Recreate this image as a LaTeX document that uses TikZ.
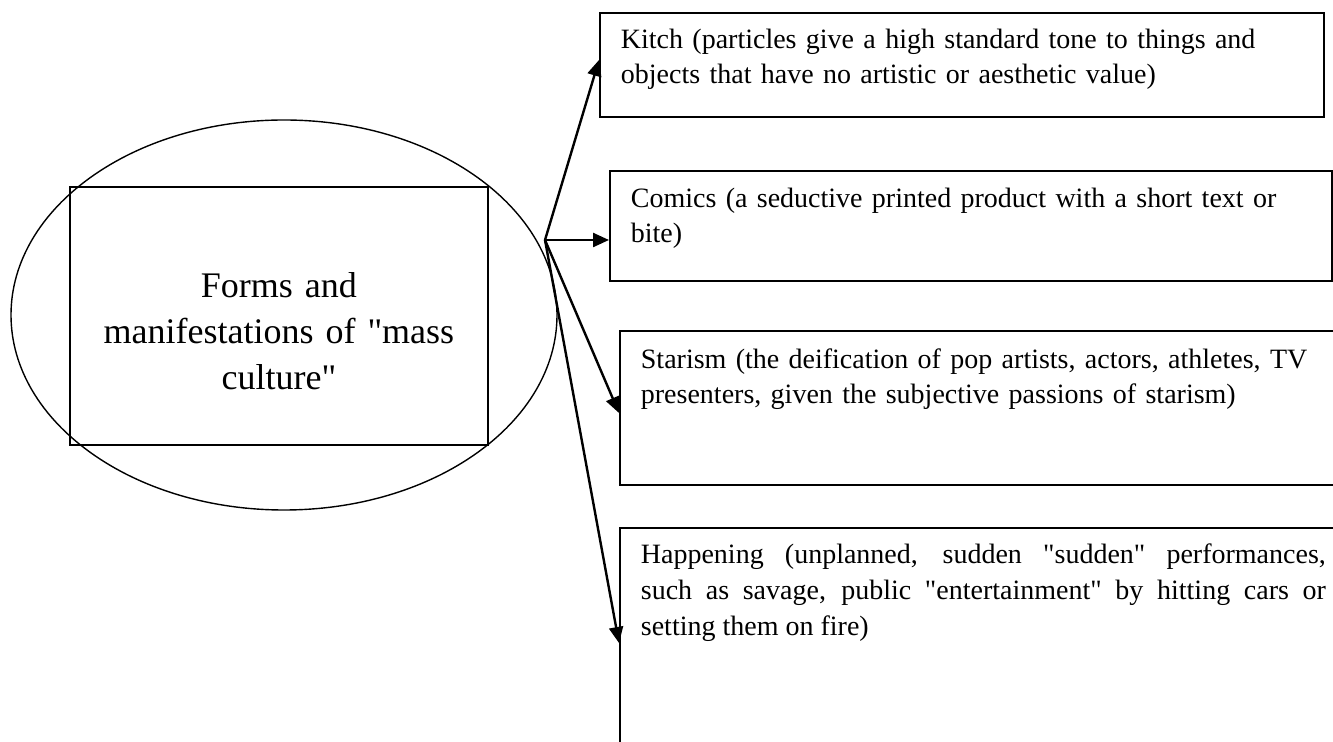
\documentclass[tikz,border=0pt]{standalone}
\usepackage{fontspec}
\setmainfont{Liberation Serif}[Ligatures=TeXOff]
\usetikzlibrary{arrows.meta}

\begin{document}
\begin{tikzpicture}[x=0.5pt, y=-0.5pt,
  formbox/.style={draw, line width=0.9pt, anchor=north west, align=left,
    inner xsep=10.5pt, inner ysep=0pt, font=\fontsize{14}{17.5}\selectfont},
  link/.style={line width=1.2pt, -{Triangle[length=8pt, width=7pt]}}]

\useasboundingbox (0,0) rectangle (1333,742);

% Oval round the core box
\draw[line width=0.7pt] (284,315) ellipse [x radius=136.5pt, y radius=97.5pt];

% Core box
\node[draw, line width=0.9pt, anchor=north west, inner sep=0pt, text width=209pt,
  align=center, text height=55.5pt, text depth=73.5pt,
  font=\fontsize{18}{23}\selectfont] (core) at (69,186)
  {Forms and\\ manifestations of "mass\\ culture"};

% Forms (right)
\node[formbox, text width=341pt, text height=18pt, text depth=34pt] (kitch) at (599,12)
  {Kitch (particles give a high standard tone to things and\\ objects that have no artistic or aesthetic value)};
\node[formbox, text width=340pt, text height=18.5pt, text depth=36.5pt] (comics) at (609,170)
  {Comics (a seductive printed product with a short text or\\ bite)};
\node[formbox, text width=360pt, text height=19pt, text depth=58pt] (starism) at (619,330)
  {Starism (the deification of pop artists, actors, athletes, TV\\ presenters, given the subjective passions of starism)};
\node[formbox, align=justify, text width=342.5pt, text height=18pt, text depth=150pt,
  font=\fontsize{14}{18}\selectfont] (happening) at (619,527)
  {Happening (unplanned, sudden "sudden" performances,\linebreak{} such as savage, public "entertainment" by hitting cars or\linebreak{} setting them on fire)};

% Arrows
\coordinate (hub) at (545,240);
\draw[link] (hub) -- ([yshift=-24pt]kitch.north west);
\draw[link] (hub) -- (hub -| comics.west);
\draw[link] (hub) -- ([yshift=-41.5pt]starism.north west);
\draw[link] (hub) -- ([yshift=-58pt]happening.north west);

\end{tikzpicture}
\end{document}
